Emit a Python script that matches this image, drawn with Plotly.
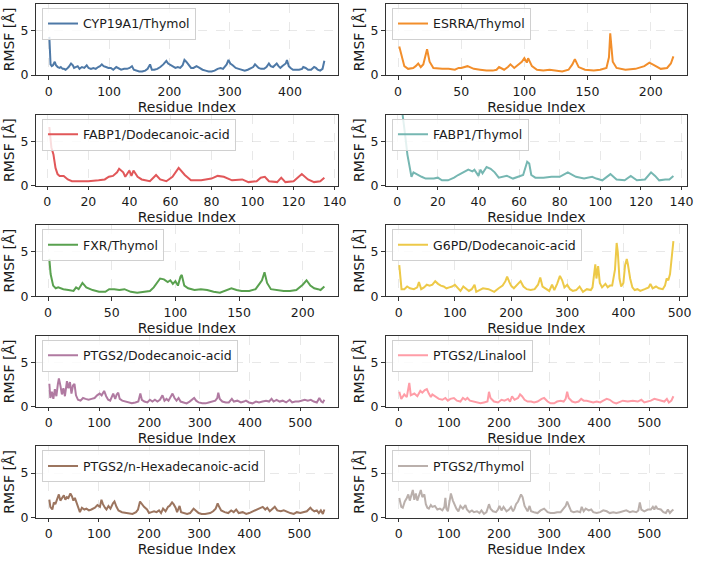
import plotly.graph_objects as go

W, H = 704, 565
FONT = "DejaVu Sans"

names = ["CYP19A1/Thymol", "ESRRA/Thymol", "FABP1/Dodecanoic-acid", "FABP1/Thymol",
         "FXR/Thymol", "G6PD/Dodecanoic-acid", "PTGS2/Dodecanoic-acid", "PTGS2/Linalool",
         "PTGS2/n-Hexadecanoic-acid", "PTGS2/Thymol"]
colors = ["#4e79a7", "#f28e2b", "#e15759", "#76b7b2", "#59a14f",
          "#edc948", "#b07aa1", "#ff9da7", "#9c755f", "#bab0ac"]

cyp_x = [1,2,3,5,7,10,12,15,18,20, 23,25,28,30,33,37,40,42,45,48, 51,55,59,63,66,70,74,78,82,85,
         88,91,95,99,103,107,112,116,120,125, 130,134,138,141,145,150,155,160,164,168,
         171,175,180,185,190,195,198,202,206,210, 214,218,222,225,228,232,236,240,245,250,
         255,260,265,270,275,280,285,289,292,295, 298,301,305,310,315,320,325,330,335,339,
         342,345,348,352,357,361,365,368,372,375, 378,381,384,387,390,393,395,398,401,405,
         410,415,420,422,426,430,435,440,443,446, 450,454,457]
cyp_y = [4.3,2.0,1.2,1.0,1.1,1.5,1.1,0.9,0.8,0.9, 0.7,0.7,0.6,0.7,0.9,1.3,1.1,0.8,0.9,1.0,
         0.7,0.9,0.8,1.1,0.8,0.7,0.8,0.7,0.9,1.0, 1.2,1.0,0.9,0.8,0.8,0.6,0.9,0.7,0.6,0.7,
         0.7,0.8,1.0,0.6,0.5,0.4,0.4,0.5,0.7,1.2, 0.6,0.6,0.7,0.9,1.2,1.6,1.3,1.1,0.9,0.8,
         0.9,0.8,1.1,1.7,1.5,1.2,0.8,0.8,1.0,0.8, 0.6,0.5,0.4,0.4,0.5,0.7,0.8,0.7,1.0,1.2,
         1.7,1.3,1.1,0.8,0.7,0.6,0.5,0.6,0.8,0.9, 1.2,1.0,0.8,0.7,0.7,0.9,1.3,1.0,0.9,1.1,
         1.3,1.0,0.8,1.0,1.2,1.3,1.7,1.0,0.8,0.6, 0.6,0.6,0.7,0.9,0.8,0.6,0.6,0.9,0.8,0.6,
         0.5,0.7,1.6]

es_x = [1,3,5,8,12,14,16,18,20,23, 25,28,32,35,40,45,48,50,55,60, 65,70,75,78,80,84,87,89,92,96,
        98,100,102,103,106,110,115,120,125,130, 135,138,140,143,148,155,160,165,167,168,
        170,173,180,188,195,199,203,208,213,216, 218]
es_y = [3.2,2.0,1.0,0.7,0.8,1.0,1.3,0.9,1.2,2.9, 1.5,0.8,0.7,0.7,0.7,0.6,0.8,0.8,1.0,0.7,
        0.6,0.5,0.5,0.6,0.9,0.6,0.9,1.2,0.8,1.2, 1.5,1.9,1.4,1.9,1.0,0.6,0.5,0.6,0.5,0.4,
        0.6,1.2,1.8,0.9,0.6,0.5,0.6,0.8,2.0,4.7, 1.5,0.8,0.6,0.7,1.0,1.4,1.1,0.7,0.8,1.3, 2.1]

fd_x = [1,2,3,4,5,6,8,10,12,16, 20,25,28,30,32,34,35,37,38,40, 41,42,44,46,50,53,55,58,61,64,
        67,70,75,80,83,86,90,95,98,102, 104,106,108,112,114,116,120,124,127,130, 133,135]
fd_y = [6.6,4.3,3.5,2.0,1.3,1.1,1.1,0.7,0.5,0.5, 0.5,0.6,0.7,1.0,1.1,1.5,1.9,1.5,1.0,1.7,
        1.1,1.7,1.0,0.7,0.5,1.2,0.7,0.5,1.0,2.0, 1.2,0.6,0.6,0.8,1.1,1.0,0.6,0.7,0.4,0.5,
        0.9,1.0,0.5,0.4,0.9,0.4,0.5,1.3,0.7,0.4, 0.5,0.9]

ft_x = [1,2,3,4,5,6,7,8,10,12, 14,18,20,22,25,28,30,33,35,37, 38,40,41,42,44,46,48,50,54,57,
        60,62,64,65,66,68,72,76,80,84, 88,92,96,98,101,105,108,112,115,118, 122,125,127,129,132,134,136]
ft_y = [11.0,9.3,7.5,5.5,3.5,2.0,1.0,1.5,1.2,1.0, 0.8,0.8,0.9,0.6,0.6,0.9,1.2,1.6,1.8,1.6,
        1.8,1.1,1.8,1.4,2.1,1.9,1.5,0.9,1.1,0.8, 1.0,1.2,2.7,2.5,1.2,0.9,0.9,1.0,1.0,1.5,
        1.0,0.8,1.0,0.8,0.6,1.3,0.7,0.6,1.1,0.6, 0.7,1.5,1.1,0.6,0.7,0.7,1.1]

fx_x = [1,2,4,6,8,12,16,20,22,24, 27,30,35,40,45,48,52,56,60,65, 70,75,80,83,86,88,91,94,96,98,
        100,102,104,105,107,110,115,120,125,130, 135,140,144,148,152,158,163,166,168,170,
        172,175,180,185,190,195,200,203,206,209, 212,214,217]
fx_y = [4.2,2.5,1.2,0.9,1.0,0.8,0.7,0.6,1.0,0.8, 1.5,1.0,0.7,0.5,0.5,0.8,0.8,0.7,0.8,0.5,
        0.4,0.5,0.6,1.0,1.6,2.0,1.9,1.6,1.8,1.4, 1.7,1.2,2.2,2.4,1.2,0.9,0.7,0.8,0.7,0.5,
        0.4,0.7,0.9,0.7,0.6,0.6,0.8,1.4,1.8,2.7, 1.5,0.8,0.7,0.6,0.6,0.7,1.3,1.8,1.2,0.9, 0.8,0.7,1.1]

g6_x = [1,3,5,10,15,20,27,33,36,40, 45,50,55,60,65,70,75,80,85,90, 95,100,105,110,115,120,125,130,135,138,
        145,150,160,170,178,185,190,193,197,200, 205,210,217,222,228,235,242,248,252,256,
        262,268,273,277,282,287,291,295,300,305, 310,316,322,328,335,342,345,350,352,355,
        358,362,368,372,376,380,385,388,390,393, 396,400,403,406,408,412,416,420,425,430,
        438,445,448,452,458,463,470,474,477,480, 483,486,489]
g6_y = [3.5,1.5,0.8,0.8,1.1,0.9,0.8,1.0,1.6,0.8, 1.0,1.3,1.2,1.3,1.7,1.4,1.2,1.1,0.9,1.0,
        1.1,1.3,1.0,0.6,1.1,0.8,0.6,0.8,1.3,0.5, 0.7,0.9,0.8,0.5,0.9,1.2,1.7,2.2,1.6,1.2,
        0.9,1.2,1.7,1.1,0.8,0.7,0.8,1.3,2.1,1.1, 0.8,0.6,1.3,0.7,1.4,2.3,1.8,1.0,1.3,0.8,
        0.6,0.7,1.1,0.5,0.8,0.7,1.0,3.6,2.0,3.4, 1.5,1.0,1.4,1.0,1.2,1.2,3.0,6.0,5.0,2.0,
        1.1,1.5,3.5,4.2,3.6,2.0,1.0,0.7,0.8,0.6, 0.8,1.0,1.4,0.9,1.1,0.9,0.8,1.2,2.0,1.8, 2.5,4.5,6.2]

pd_x = [1,3,6,9,12,15,18,20,23,26, 29,32,36,39,42,45,48,51,54,58, 63,68,73,79,85,91,96,101,105,110,
        114,118,122,126,128,132,135,138,141,146, 152,158,165,172,178,182,185,190,196,201,
        206,211,216,221,226,230,234,238,242,246, 250,254,258,262,268,274,280,285,289,293,
        298,305,312,318,325,331,335,337,340,345, 352,358,364,368,375,382,388,392,398,405,
        412,418,425,432,438,443,447,453,459,465, 472,479,484,490,497,503,509,515,521,527,
        533,538,542,545,548]
pd_y = [2.6,1.0,1.7,0.9,2.0,1.2,2.6,3.2,2.4,1.4, 2.1,1.2,2.9,2.1,2.8,1.5,2.4,2.6,1.3,0.8,
        0.7,1.0,0.9,0.8,0.9,1.0,1.3,1.5,1.3,1.8, 1.2,0.8,0.7,1.3,1.5,0.9,1.4,1.6,0.9,0.7,
        0.6,0.5,0.4,0.5,0.6,1.5,0.8,0.6,0.5,0.8, 0.6,0.8,0.6,0.8,1.3,0.7,0.9,0.7,1.2,1.5,
        1.0,0.7,1.0,0.6,0.5,0.4,0.6,0.8,1.0,0.7, 0.5,0.4,0.4,0.5,0.6,0.7,1.0,1.6,0.9,0.6,
        0.5,0.5,0.9,0.6,0.7,0.5,0.6,0.7,0.5,0.4, 0.6,0.5,0.6,0.7,0.6,0.9,0.6,0.8,0.6,0.7,
        0.5,0.8,0.5,0.6,0.6,0.7,0.8,0.7,0.8,0.6, 0.5,1.0,0.6,0.5,0.8]

pl_x = [1,5,11,16,21,24,31,37,43,47, 52,56,60,64,67,73,80,87,93,98, 103,110,116,123,128,133,137,142,149,155,
        163,170,177,180,183,190,198,205,211,218, 222,226,231,238,242,246,251,257,264,270,
        277,285,290,297,303,310,316,323,329,333, 336,339,346,352,359,364,369,375,382,388,
        395,402,408,415,421,428,434,441,447,457, 467,477,484,490,497,503,510,516,523,530,
        535,539,544,548]
pl_y = [1.7,0.9,1.4,1.1,2.7,1.3,1.5,1.2,1.8,1.6, 1.9,2.0,1.5,1.1,1.4,1.2,0.9,0.8,1.0,0.7,
        0.9,1.0,0.7,0.6,1.0,0.8,1.0,0.7,0.6,0.6, 0.4,0.5,0.6,1.7,1.0,0.6,0.5,0.8,0.7,0.9,
        0.6,1.2,0.8,1.0,1.4,1.2,0.8,0.6,0.6,0.5, 0.6,0.9,1.0,0.6,0.4,0.4,0.6,0.7,0.6,0.9,
        1.7,1.0,0.6,0.5,0.6,0.9,0.7,0.7,0.6,0.5, 0.6,0.5,0.7,0.9,0.8,0.5,0.4,0.6,0.7,0.6,
        0.7,0.6,0.8,0.5,0.6,0.7,0.9,0.8,0.7,0.6, 0.9,0.5,0.7,1.2]

ph_x = [1,3,7,10,13,16,20,23,26,30, 33,36,39,43,46,49,52,56,59,62, 66,71,75,80,85,92,97,102,105,108,
        112,115,119,123,128,131,135,139,146,154, 161,167,174,178,182,187,190,196,200,205,
        210,215,220,224,228,233,238,241,246,249, 253,256,259,261,264,269,276,282,289,293,
        299,305,312,322,328,333,337,340,344,351, 358,364,369,374,379,387,394,400,407,413,
        420,427,432,436,441,446,451,456,463,469, 476,482,489,495,502,509,515,522,525,530,
        535,539,543,547,550]
ph_y = [2.0,1.2,0.9,1.7,1.5,2.0,2.6,1.9,2.2,2.5, 2.0,2.3,2.2,2.7,2.4,1.9,2.2,1.6,1.0,0.6,
        1.1,0.9,1.0,0.8,0.9,1.1,1.4,1.2,2.0,1.5, 1.1,0.9,1.3,1.0,1.6,1.8,1.2,0.8,0.6,0.5,
        0.4,0.4,0.6,0.9,1.8,1.4,1.2,0.9,0.5,0.6, 0.7,0.6,0.8,0.5,1.0,0.7,1.2,1.3,1.7,1.5,
        1.1,0.6,1.0,1.3,0.6,0.5,0.4,0.5,1.0,0.8, 0.5,0.4,0.4,0.5,0.7,1.0,1.6,1.2,0.8,0.6,
        0.5,0.8,0.6,0.9,0.5,0.6,0.4,0.5,0.7,0.8, 1.0,1.2,0.9,1.1,0.7,1.0,1.2,0.8,0.7,0.8,
        0.6,0.5,0.4,0.6,0.5,0.6,0.7,1.1,0.9,0.7, 0.8,0.5,0.8,0.4,0.9]

pt_x = [1,5,8,12,16,19,22,24,28,31, 34,37,41,44,47,51,54,57,60,64, 67,72,77,82,87,91,93,95,98,101,
        104,108,111,115,119,123,128,133,136,141, 146,150,156,161,165,170,175,180,183,188,
        194,198,201,205,209,215,220,224,228,231, 234,238,241,244,247,251,254,257,261,264,
        270,277,283,290,297,303,310,316,323,329, 333,336,339,344,349,356,362,365,369,373,
        379,384,388,395,402,408,415,421,428,434, 441,447,454,461,467,474,478,481,484,490,
        497,503,507,510,513,516,523,528,533,537, 541,544,548]
pt_y = [2.2,1.2,1.1,1.8,2.2,2.6,1.9,2.4,3.1,2.0, 2.7,1.9,2.5,3.1,2.3,2.6,1.5,1.1,1.0,1.4,
        1.2,1.3,0.9,1.0,0.8,1.2,2.2,1.0,0.7,1.7, 2.7,1.9,1.5,1.0,0.7,1.3,1.0,1.4,0.9,0.6,
        0.8,0.6,0.7,0.5,0.8,0.4,0.6,1.5,1.0,0.7, 0.6,0.9,1.3,0.8,1.2,0.7,0.9,1.2,0.7,1.0,
        1.5,1.8,2.2,2.6,2.3,1.3,1.0,0.7,1.3,0.7, 0.6,0.5,0.8,1.0,0.6,0.5,0.5,0.6,0.6,1.0,
        1.3,1.8,1.3,0.7,0.6,0.7,0.6,1.2,0.7,1.0, 0.8,0.9,0.6,0.5,0.6,0.8,0.7,0.5,0.6,0.5,
        0.6,0.7,0.8,0.6,0.7,0.6,0.8,1.7,0.9,0.7, 0.9,0.9,1.2,0.9,1.3,1.0,0.9,0.6,0.5,0.9,
        0.5,0.7,0.9]

all_x = [cyp_x, es_x, fd_x, ft_x, fx_x, g6_x, pd_x, pl_x, ph_x, pt_x]
all_y = [cyp_y, es_y, fd_y, ft_y, fx_y, g6_y, pd_y, pl_y, ph_y, pt_y]
dticks = [100, 50, 20, 20, 50, 100, 100, 100, 100, 100]

x_title = "Residue Index"
y_title = "RMSF [Å]"
y_ticks = [0, 5]
y_range = [0, 8]

col_px = [(36, 342), (390, 695)]
row_top_px = [4, 116, 228, 340, 452]
PH = 72
TXT = "#1a1a1a"

fig = go.Figure()
layout = {}
for i in range(10):
    r, c = divmod(i, 2)
    sfx = "" if i == 0 else str(i + 1)
    x0, x1 = col_px[c]
    top = row_top_px[r]
    bot = top + PH
    lo, hi = min(all_x[i]), max(all_x[i])
    pad = 0.05 * (hi - lo)
    fig.add_trace(go.Scatter(
        x=all_x[i], y=all_y[i], mode="lines", name=names[i],
        line=dict(color=colors[i], width=2),
        xaxis="x" + sfx, yaxis="y" + sfx, legend="legend" + sfx,
        showlegend=True, hoverinfo="skip"))
    common = dict(showline=True, mirror=True, linecolor="#333333", linewidth=1.1,
                  ticks="outside", ticklen=3.5, tickwidth=1, tickcolor="#333333",
                  showgrid=True, gridcolor="rgba(190,190,190,0.35)", gridwidth=0.8,
                  griddash="dash", zeroline=False,
                  tickfont=dict(family=FONT, size=12.5, color=TXT))
    layout["xaxis" + sfx] = dict(
        domain=[x0 / W, x1 / W], range=[lo - pad, hi + pad], anchor="y" + sfx,
        dtick=dticks[i], tick0=0, ticklabelstandoff=1,
        title=dict(text=x_title, font=dict(family=FONT, size=14, color=TXT), standoff=3),
        **common)
    layout["yaxis" + sfx] = dict(
        domain=[1 - bot / H, 1 - top / H], range=y_range, anchor="x" + sfx,
        tickvals=y_ticks,
        title=dict(text=y_title, font=dict(family=FONT, size=14, color=TXT), standoff=2),
        **common)
    layout["legend" + sfx] = dict(
        x=(x0 + 6.5) / W, y=1 - (top + 4) / H, xanchor="left", yanchor="top",
        bgcolor="rgba(255,255,255,0.8)", bordercolor="#d0d0d0", borderwidth=1,
        font=dict(family=FONT, size=12.5, color=TXT))

fig.update_layout(width=W, height=H, margin=dict(l=0, r=0, t=0, b=0),
                  plot_bgcolor="white", paper_bgcolor="white", **layout)
fig.write_html("out.html")
